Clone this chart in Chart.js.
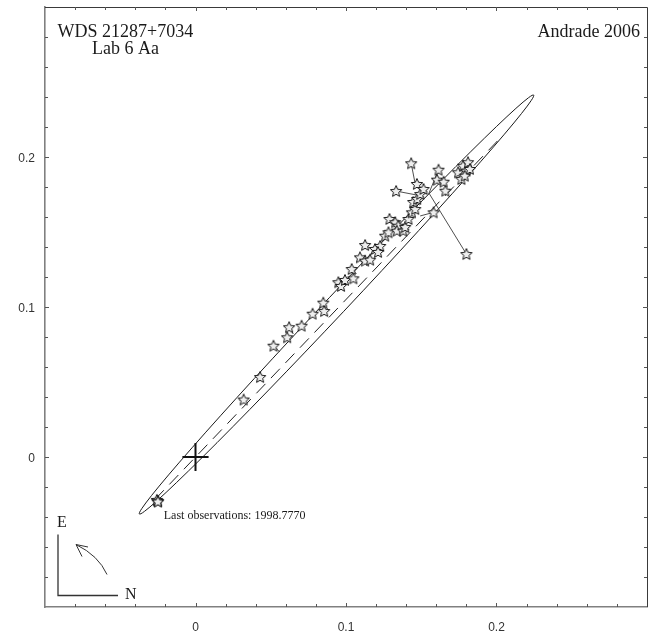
<!DOCTYPE html>
<html>
<head>
<meta charset="utf-8">
<script src="https://cdn.jsdelivr.net/npm/chart.js@4.4.1/dist/chart.umd.min.js"></script>
<style>
  html, body { margin: 0; padding: 0; background: #fff; }
  #wrap { width: 657px; height: 634px; position: relative; }
</style>
</head>
<body>
<div id="wrap"><canvas id="c"></canvas></div>
<script>
// Relative positions of the companion (arcsec): measured positions
const obsX = [-0.0253, -0.0257, -0.0248, 0.0320, 0.0429, 0.0518, 0.0609, 0.0622, 0.0705, 0.0778,
              0.0849, 0.0855, 0.0949, 0.0967, 0.0993, 0.1049, 0.1038, 0.1093, 0.1127, 0.1160,
              0.1127, 0.1193, 0.1227, 0.1213, 0.1260, 0.1282, 0.1289, 0.1327, 0.1347, 0.1338,
              0.1380, 0.1393, 0.1415, 0.1438, 0.1460, 0.1447, 0.1473, 0.1493, 0.1471, 0.1515,
              0.1433, 0.1333, 0.1615, 0.1605, 0.1649, 0.1660, 0.1745, 0.1778, 0.1800, 0.1811,
              0.1767, 0.1823, 0.1789, 0.1582, 0.1800, -0.0250];
const obsY = [-0.0291, -0.0286, -0.0295, 0.0383, 0.0533, 0.0742, 0.0798, 0.0865, 0.0875, 0.0955,
              0.1029, 0.0973, 0.1165, 0.1140, 0.1180, 0.1191, 0.1253, 0.1331, 0.1309, 0.1315,
              0.1413, 0.1387, 0.1407, 0.1367, 0.1475, 0.1498, 0.1587, 0.1565, 0.1542, 0.1509,
              0.1509, 0.1533, 0.1587, 0.1631, 0.1653, 0.1700, 0.1720, 0.1753, 0.1820, 0.1787,
              0.1958, 0.1773, 0.1915, 0.1849, 0.1835, 0.1775, 0.1898, 0.1942, 0.1909, 0.1965,
              0.1853, 0.1920, 0.1875, 0.1631, 0.1353, -0.0297];
// Positions on the orbit at the same epochs (end of each O-C segment)
const calcX = [-0.0270, -0.0270, -0.0270, 0.0290, 0.0420, 0.0560, 0.0620, 0.0650, 0.0720, 0.0800,
               0.0870, 0.0880, 0.0990, 0.1000, 0.1010, 0.1050, 0.1070, 0.1120, 0.1140, 0.1160,
               0.1180, 0.1200, 0.1220, 0.1220, 0.1280, 0.1290, 0.1330, 0.1340, 0.1350, 0.1350,
               0.1380, 0.1400, 0.1430, 0.1450, 0.1470, 0.1490, 0.1500, 0.1520, 0.1530, 0.1540,
               0.1460, 0.1467, 0.1549, 0.1620, 0.1650, 0.1670, 0.1750, 0.1770, 0.1800, 0.1810,
               0.1770, 0.1820, 0.1790, 0.1493, 0.1555, -0.0270];
const calcY = [-0.0290, -0.0290, -0.0290, 0.0380, 0.0510, 0.0700, 0.0770, 0.0820, 0.0860, 0.0940,
               0.1010, 0.0990, 0.1150, 0.1150, 0.1160, 0.1190, 0.1220, 0.1290, 0.1300, 0.1310,
               0.1380, 0.1380, 0.1400, 0.1380, 0.1460, 0.1480, 0.1530, 0.1540, 0.1540, 0.1520,
               0.1510, 0.1530, 0.1570, 0.1620, 0.1640, 0.1680, 0.1700, 0.1730, 0.1760, 0.1770,
               0.1820, 0.1747, 0.1753, 0.1830, 0.1830, 0.1790, 0.1880, 0.1900, 0.1900, 0.1920,
               0.1860, 0.1910, 0.1880, 0.1607, 0.1753, -0.0290];

// Apparent orbit: ends of the major axis and the semi-minor axis (arcsec)
const orbitTipA = [-0.0373, -0.0380];
const orbitTipB = [0.2247, 0.2413];
const orbitSemiMinor = 0.0066;

// Line of nodes through the primary
const nodeLineX = [-0.0270, 0.2013];
const nodeLineY = [-0.0284, 0.2114];

// Primary star marker (cross at the origin)
const crossX = [-0.0087, 0.0087, null, 0, 0];
const crossY = [0, 0, null, -0.0093, 0.0093];

// Axis range and labelled ticks
const axisMin = -0.1, axisMax = 0.3, minorStep = 0.02;
const labelTicks = [0, 0.1, 0.2];

const lastObsLabel = 'Last observations: 1998.7770';
const lastObsAt = [-0.0211, -0.0410];

// Outlined five-point star used as the observation marker
function starImage(r) {
  const s = Math.ceil(r * 2 + 4);
  const c = document.createElement('canvas');
  c.width = s; c.height = s;
  const g = c.getContext('2d');
  g.translate(s / 2, s / 2 + 0.5);
  g.beginPath();
  for (let i = 0; i < 10; i++) {
    const rr = i % 2 ? r * 0.46 : r;
    const a = -Math.PI / 2 + i * Math.PI / 5;
    g.lineTo(rr * Math.cos(a), rr * Math.sin(a));
  }
  g.closePath();
  g.fillStyle = '#eeeeee';
  g.fill();
  g.strokeStyle = '#151515';
  g.lineWidth = 1;
  g.stroke();
  return c;
}
const star = starImage(6);

const obsPoints = obsX.map((v, i) => ({ x: v, y: obsY[i] }));
const ocSegments = [];
obsX.forEach((v, i) => {
  ocSegments.push({ x: v, y: obsY[i] }, { x: calcX[i], y: calcY[i] }, { x: null, y: null });
});
const nodePoints = nodeLineX.map((v, i) => ({ x: v, y: nodeLineY[i] }));
const crossPoints = crossX.map((v, i) => ({ x: v, y: crossY[i] }));

const decor = {
  id: 'decor',
  beforeDatasetsDraw(chart) {
    const { ctx, scales: { x, y } } = chart;
    const ax = x.getPixelForValue(orbitTipA[0]), ay = y.getPixelForValue(orbitTipA[1]);
    const bx = x.getPixelForValue(orbitTipB[0]), by = y.getPixelForValue(orbitTipB[1]);
    const cx = (ax + bx) / 2, cy = (ay + by) / 2;
    const rx = Math.hypot(bx - ax, by - ay) / 2;
    const ry = Math.abs(x.getPixelForValue(orbitSemiMinor) - x.getPixelForValue(0));
    const rot = Math.atan2(by - ay, bx - ax);
    ctx.save();
    ctx.beginPath();
    ctx.ellipse(cx, cy, rx, ry, rot, 0, Math.PI * 2);
    ctx.strokeStyle = '#1a1a1a';
    ctx.lineWidth = 1;
    ctx.stroke();
    ctx.restore();
  },
  afterDraw(chart) {
    const { ctx, chartArea: a, scales: { x, y } } = chart;
    ctx.save();
    // frame: top and right sides
    ctx.strokeStyle = '#3a3a3a';
    ctx.lineWidth = 1;
    ctx.beginPath();
    ctx.moveTo(a.left, a.top + 0.5); ctx.lineTo(a.right + 0.5, a.top + 0.5);
    ctx.lineTo(a.right + 0.5, a.bottom);
    ctx.stroke();
    // inward tick marks on all four sides
    const n = Math.round((axisMax - axisMin) / minorStep);
    ctx.lineWidth = 1;
    for (let k = 1; k < n; k++) {
      const v = axisMin + k * minorStep;
      const major = k % 5 === 0;
      const len = major ? 4 : 3;
      const px = Math.round(x.getPixelForValue(v)) + 0.5;
      const py = Math.round(y.getPixelForValue(v)) + 0.5;
      ctx.strokeStyle = '#555';
      ctx.beginPath();
      ctx.moveTo(px, a.bottom); ctx.lineTo(px, a.bottom - len);
      ctx.moveTo(px, a.top); ctx.lineTo(px, a.top + len);
      ctx.moveTo(a.left, py); ctx.lineTo(a.left + len, py);
      ctx.moveTo(a.right, py); ctx.lineTo(a.right - len, py);
      ctx.stroke();
    }
    // header texts
    ctx.fillStyle = '#1a1a1a';
    ctx.font = '18px "Liberation Serif", "Times New Roman", serif';
    ctx.textBaseline = 'alphabetic';
    ctx.textAlign = 'left';
    ctx.fillText('WDS 21287+7034', a.left + 12.5, a.top + 30);
    ctx.fillText('Lab 6 Aa', a.left + 47, a.top + 47);
    ctx.textAlign = 'right';
    ctx.fillText('Andrade 2006', a.right - 7, a.top + 30);
    // label beside the latest measures
    ctx.textAlign = 'left';
    ctx.font = '12px "Liberation Serif", "Times New Roman", serif';
    ctx.fillText(lastObsLabel, x.getPixelForValue(lastObsAt[0]), y.getPixelForValue(lastObsAt[1]));
    // orientation sign: E up, N right, direction of motion
    const ox = a.left + 13, oy = a.bottom - 11.5;
    ctx.strokeStyle = '#333';
    ctx.lineWidth = 1.3;
    ctx.beginPath();
    ctx.moveTo(ox, oy - 61); ctx.lineTo(ox, oy); ctx.lineTo(ox + 60, oy);
    ctx.stroke();
    ctx.lineWidth = 1;
    ctx.beginPath();
    ctx.moveTo(ox + 49, oy - 21);
    ctx.quadraticCurveTo(ox + 40.5, oy - 40, ox + 18, oy - 51);
    ctx.moveTo(ox + 30, oy - 48.5); ctx.lineTo(ox + 18, oy - 51); ctx.lineTo(ox + 24, oy - 39);
    ctx.stroke();
    ctx.font = '16px "Liberation Serif", "Times New Roman", serif';
    ctx.fillText('E', ox - 1, oy - 69);
    ctx.fillText('N', ox + 67, oy + 3);
    ctx.restore();
  }
};

const axisFont = { family: '"Liberation Sans", Arial, sans-serif', size: 12 };

new Chart(document.getElementById('c'), {
  type: 'scatter',
  data: {
    datasets: [
      {
        label: 'measures',
        data: obsPoints,
        pointStyle: star,
        pointRadius: 6,
        showLine: false
      },
      {
        label: 'O-C',
        data: ocSegments,
        showLine: true,
        spanGaps: false,
        pointRadius: 0,
        borderColor: '#222',
        borderWidth: 0.8
      },
      {
        label: 'line of nodes',
        data: nodePoints,
        showLine: true,
        pointRadius: 0,
        borderColor: '#222',
        borderWidth: 1,
        borderDash: [13, 8]
      },
      {
        label: 'primary',
        data: crossPoints,
        showLine: true,
        spanGaps: false,
        pointRadius: 0,
        borderColor: '#111',
        borderWidth: 2
      }
    ]
  },
  options: {
    responsive: true,
    maintainAspectRatio: false,
    animation: false,
    events: [],
    layout: { padding: { top: 7, right: 10, left: 0, bottom: 0 } },
    plugins: { legend: { display: false }, tooltip: { enabled: false } },
    scales: {
      x: {
        type: 'linear',
        min: axisMin, max: axisMax,
        afterBuildTicks: s => { s.ticks = labelTicks.map(v => ({ value: v })); },
        afterFit: s => { s.height = 27; s.paddingLeft = 0; s.paddingRight = 0; },
        grid: { display: false, drawTicks: false },
        border: { display: true, color: '#808080', width: 1.6 },
        ticks: {
          font: axisFont, color: '#333', padding: 13, maxRotation: 0, autoSkip: false,
          callback: v => String(v)
        }
      },
      y: {
        type: 'linear',
        min: axisMin, max: axisMax,
        afterBuildTicks: s => { s.ticks = labelTicks.map(v => ({ value: v })); },
        afterFit: s => { s.width = 45; s.paddingTop = 0; s.paddingBottom = 0; },
        grid: { display: false, drawTicks: false },
        border: { display: true, color: '#808080', width: 1.6 },
        ticks: {
          font: axisFont, color: '#333', padding: 10, labelOffset: 2, autoSkip: false,
          callback: v => String(v)
        }
      }
    }
  },
  plugins: [decor]
});
</script>
</body>
</html>
